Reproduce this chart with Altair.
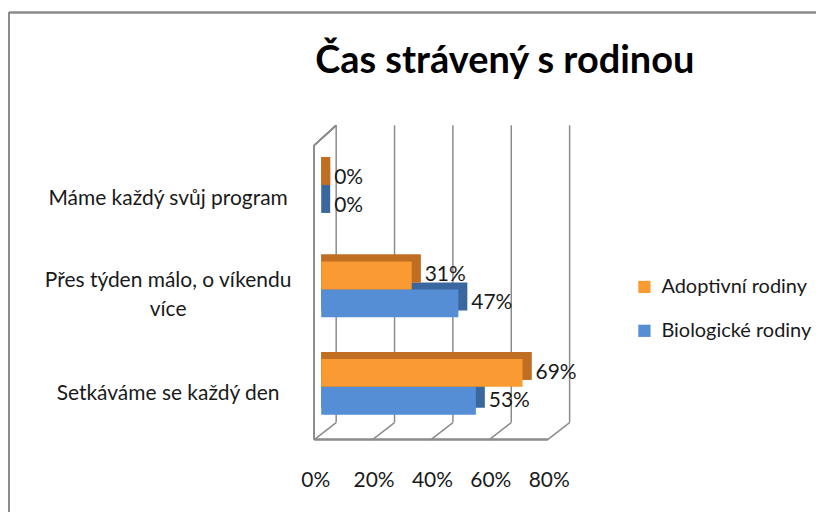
import altair as alt
import pandas as pd

categories = ["Máme každý svůj program", "Přes týden málo, o víkendu více", "Setkáváme se každý den"]
series = ["Adoptivní rodiny", "Biologické rodiny"]
adoptivni = [0, 31, 69]
biologicke = [0, 47, 53]
ticks = [0, 20, 40, 60, 80]

colors_front = ["#F99A32", "#558ED5"]
colors_side = ["#C06E22", "#3A679E"]

rows = []
for i, c in enumerate(categories):
    rows.append({"cat": c, "series": series[0], "value": adoptivni[i], "label": f"{adoptivni[i]}%"})
    rows.append({"cat": c, "series": series[1], "value": biologicke[i], "label": f"{biologicke[i]}%"})
df = pd.DataFrame(rows)
tick_df = pd.DataFrame({"t": ticks})

FONT = "Lato"
GRID = "#8C8C8C"
TXT = "#1a1a1a"
W, H = 234, 293
BAR_H = 28
DEPTH_X, DEPTH_Y = 9, 7

y_enc = alt.Y("cat:N", sort=categories, scale=alt.Scale(paddingInner=0.42, paddingOuter=0.21),
              axis=alt.Axis(title=None, domain=False, ticks=False, tickSize=0, labelAlign="center",
                            labelPadding=154, labelFontSize=21, labelFont=FONT, labelColor=TXT,
                            labelLineHeight=29, labelBaseline="middle", labelLimit=400,
                            labelOffset={"condition": {"test": "datum.value == 'Přes týden málo, o víkendu více'",
                                                       "value": -8}, "value": 7},
                            labelExpr="datum.label == 'Přes týden málo, o víkendu více' ? ['Přes týden málo, o víkendu', 'více'] : datum.label"))
x_scale = alt.Scale(domain=[0, 80], nice=False, zero=True)
x_enc = alt.X("value:Q", scale=x_scale, stack=None,
              axis=alt.Axis(title=None, values=ticks, labelExpr="datum.value + '%'", domain=False, ticks=False,
                            tickSize=0, grid=False, labelPadding=34, labelOffset=-6, labelFontSize=21,
                            labelFont=FONT, labelColor=TXT, labelFlush=False, labelOverlap=False))

legend = alt.Legend(title=None, orient="none", legendX=314, legendY=134,
                    symbolType="square", symbolSize=150, symbolStrokeWidth=0,
                    labelFontSize=20, labelFont=FONT, labelColor=TXT,
                    rowPadding=24, labelOffset=7)
color_enc = alt.Color("series:N", sort=series, scale=alt.Scale(domain=series, range=colors_front), legend=legend)

rule_style = dict(color=GRID, strokeWidth=1.5)

# chart frame
frame_top = alt.Chart(tick_df).mark_rule(color="#8a8a8a", strokeWidth=1.5).encode(
    x=alt.value(-313), x2=alt.value(W + 262), y=alt.value(-131))
frame_left = alt.Chart(tick_df).mark_rule(color="#8a8a8a", strokeWidth=1.5).encode(
    x=alt.value(-313), y=alt.value(-131), y2=alt.value(H + 80))

# 3D walls and floor
back_grid = alt.Chart(tick_df).mark_rule(xOffset=15, **rule_style).encode(
    x=alt.X("t:Q", scale=x_scale), y=alt.value(-18), y2=alt.value(280))
floor_diag = alt.Chart(tick_df).mark_rule(xOffset=-7, x2Offset=15, **rule_style).encode(
    x=alt.X("t:Q", scale=x_scale), x2="t:Q", y=alt.value(297), y2=alt.value(280))
floor_front = alt.Chart(tick_df).mark_rule(xOffset=-7, x2Offset=-7, **rule_style).encode(
    x=alt.datum(ticks[0], scale=x_scale), x2=alt.datum(ticks[-1]), y=alt.value(297))
left_wall = alt.Chart(tick_df).mark_rule(xOffset=-7, **rule_style).encode(
    x=alt.datum(ticks[0], scale=x_scale), y=alt.value(2), y2=alt.value(297))
left_top = alt.Chart(tick_df).mark_rule(xOffset=-7, x2Offset=15, **rule_style).encode(
    x=alt.datum(ticks[0], scale=x_scale), x2=alt.datum(ticks[0]), y=alt.value(2), y2=alt.value(-18))

layers = [frame_top, frame_left, back_grid, floor_diag, floor_front, left_wall, left_top]

offsets = {series[0]: -BAR_H / 2, series[1]: BAR_H / 2}
side_layers, front_layers, label_layers = [], [], []
for k, s in enumerate(series):
    base = alt.Chart(df).transform_filter(alt.datum.series == s)
    side_layers.append(base.mark_bar(height=BAR_H, yOffset=offsets[s] - DEPTH_Y, xOffset=DEPTH_X,
                                     color=colors_side[k]).encode(x=x_enc, y=y_enc))
    front_layers.append(base.mark_bar(height=BAR_H, yOffset=offsets[s]).encode(x=x_enc, y=y_enc, color=color_enc))
    label_layers.append(base.mark_text(align="left", baseline="middle", dx=13, yOffset=offsets[s],
                                       fontSize=21, font=FONT, color=TXT).encode(x=x_enc, y=y_enc, text="label:N"))

# draw blue (lower) first so the orange bars sit in front
layers += side_layers[::-1] + [front_layers[1], side_layers[0], front_layers[0]] + label_layers

chart = alt.layer(*layers).properties(
    width=W, height=H,
    title=alt.TitleParams("Čas strávený s rodinou", fontSize=38, fontWeight="bold", font=FONT,
                          color="#000000", anchor="middle", dx=67, offset=-69),
    autosize=alt.AutoSizeParams(type="none"),
    padding={"left": 314, "top": 135, "right": 262, "bottom": 76},
    background="white",
).configure_view(stroke=None)

chart.save("out.html", embed_options={"renderer": "svg", "actions": False})
